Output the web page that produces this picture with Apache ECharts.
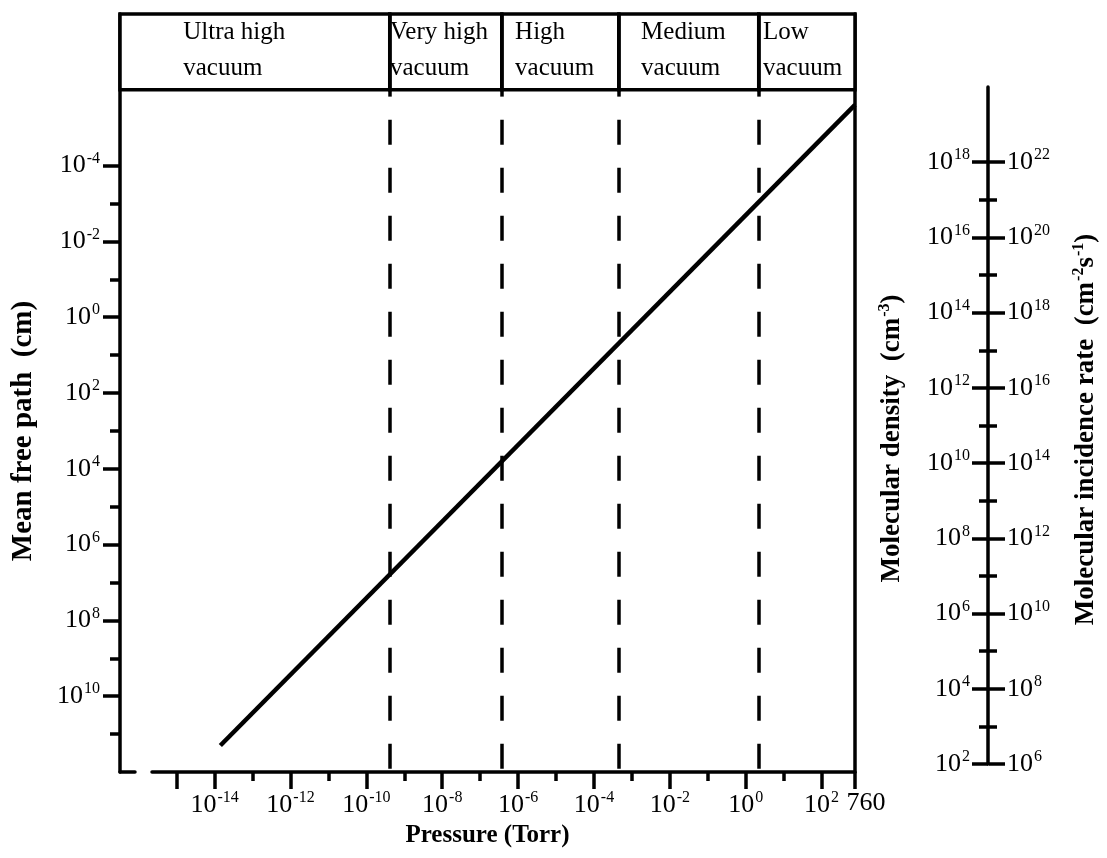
<!DOCTYPE html>
<html lang="en">
<head>
  <meta charset="UTF-8">
  <script src="https://cdn.jsdelivr.net/npm/echarts@6/dist/echarts.min.js"></script>
  <title>Vacuum ranges</title>
  <style>html, body { margin: 0; background: #fff; }</style>
</head>
<body>
  <div id="chart" style="width: 1107px; height: 858px;"></div>

  <script>
    // values (pressure in Torr, mean free path in cm)
    var pressureTorr = [1.4e-14, 760];
    var meanFreePathCm = [2e11, 2.5e-6];

    // vacuum ranges and the pressures that split them
    var regionNames = ['Ultra high\nvacuum', 'Very high\nvacuum', 'High\nvacuum', 'Medium\nvacuum', 'Low\nvacuum'];
    var regionEdgesTorr = [4.1e-10, 3.7e-7, 4.5e-4, 2.2];

    // tick exponents
    var pressureLabelExp = [-14, -12, -10, -8, -6, -4, -2, 0, 2];
    var pressureMinorExp = [-13, -11, -9, -7, -5, -3, -1, 1];
    var pressureTop = 760;
    var mfpLabelExp = [-4, -2, 0, 2, 4, 6, 8, 10];
    var mfpMinorExp = [-3, -1, 1, 3, 5, 7, 9, 11];
    var densityLabelExp = [2, 4, 6, 8, 10, 12, 14, 16, 18];
    var densityMinorExp = [3, 5, 7, 9, 11, 13, 15, 17];
    var incidenceLabelExp = [6, 8, 10, 12, 14, 16, 18, 20, 22];
    var incidenceMinorExp = [7, 9, 11, 13, 15, 17, 19, 21];

    var FONT = 'Liberation Serif';
    var lg = Math.log10;
    var xTop = lg(pressureTop);
    var xLeft = -16.5;        // exponent at the left frame
    var xAxisStart = -15.65;  // exponent where the pressure axis starts

    var chart = echarts.init(document.getElementById('chart'));

    var rich = {
      n: { fontFamily: FONT, fontSize: 26, color: '#000' },
      s: { fontFamily: FONT, fontSize: 16, color: '#000', padding: [0, 0, 14, 1] },
      m: { fontFamily: FONT, fontSize: 26, color: '#000', padding: [0, 0, 0, 22] }
    };
    function pow10(v) {
      if (Math.abs(v - xTop) < 1e-6) return '{m|' + pressureTop + '}';
      return '{n|10}{s|' + v + '}';
    }
    var black = { color: '#000', width: 3.5 };
    function title(size) {
      return { fontFamily: FONT, fontWeight: 'bold', fontSize: size, color: '#000' };
    }
    function titleRich(size, pad) {
      var t = title(size);
      t.padding = pad;
      t.rich = {
        b: title(size),
        u: { fontFamily: FONT, fontWeight: 'bold', fontSize: 16, color: '#000', padding: [0, 0, 15, 1] }
      };
      return t;
    }

    // boxes of the vacuum ranges
    var bounds = [xLeft].concat(regionEdgesTorr.map(lg)).concat([xTop]);
    var labelShift = [65, 2, 15, 24, 6];
    var areaData = regionNames.map(function (name, i) {
      return [
        { coord: [bounds[i], -8], name: name, label: { offset: [labelShift[i], 2] } },
        { coord: [bounds[i + 1], -6] }
      ];
    });

    // separators: solid in the band, a short stub below it, then dashes
    var lineData = [];
    regionEdgesTorr.forEach(function (p) {
      lineData.push([{ coord: [lg(p), -8], lineStyle: { type: 'solid' } }, { coord: [lg(p), -5.82] }]);
      lineData.push([{ coord: [lg(p), -5.21] }, { coord: [lg(p), 12] }]);
    });

    var option = {
      animation: false,
      grid: [
        { left: 120, right: 252, top: 14, bottom: 86 },
        { left: 152, right: 252, top: 14, bottom: 86 },
        { left: 988, width: 1, top: 87, bottom: 94 },
        { left: 120, width: 15, top: 14, bottom: 86 }
      ],
      xAxis: [
        { type: 'value', gridIndex: 0, min: xLeft, max: xTop, show: false },
        {
          type: 'value', gridIndex: 1, position: 'bottom', min: xAxisStart, max: xTop,
          axisLine: { show: true, onZero: false, lineStyle: black },
          axisTick: { show: true, customValues: [-15].concat(pressureLabelExp, [xTop]), length: 17, lineStyle: black },
          axisLabel: { customValues: pressureLabelExp.concat([xTop]), formatter: pow10, margin: 18, rich: rich,
            hideOverlap: false, showMaxLabel: true, showMinLabel: true },
          splitLine: { show: false },
          name: 'Pressure (Torr)', nameLocation: 'middle', nameGap: 50,
          nameTextStyle: Object.assign({ padding: [0, 32, 0, 0] }, title(25))
        },
        {
          type: 'value', gridIndex: 1, position: 'bottom', min: xAxisStart, max: xTop,
          axisLine: { show: false, onZero: false },
          axisTick: { show: true, customValues: pressureMinorExp, length: 9, lineStyle: black },
          axisLabel: { show: false }, splitLine: { show: false }
        },
        { type: 'value', gridIndex: 2, min: 0, max: 1, show: false },
        {
          // short stub at the foot of the left frame
          type: 'value', gridIndex: 3, position: 'bottom', min: 0, max: 1,
          axisLine: { show: true, onZero: false, lineStyle: black },
          axisTick: { show: false }, axisLabel: { show: false }, splitLine: { show: false }
        }
      ],
      yAxis: [
        {
          type: 'value', gridIndex: 0, position: 'left', inverse: true, min: -8, max: 12,
          axisLine: { show: true, onZero: false, lineStyle: black },
          axisTick: { show: true, customValues: mfpLabelExp, length: 17, lineStyle: black },
          axisLabel: { customValues: mfpLabelExp, formatter: pow10, margin: 20, rich: rich },
          splitLine: { show: false },
          name: 'Mean free path  (cm)', nameLocation: 'middle', nameGap: 82,
          nameTextStyle: Object.assign({ padding: [0, 76, 0, 0] }, title(29))
        },
        {
          type: 'value', gridIndex: 0, position: 'left', inverse: true, min: -8, max: 12,
          axisLine: { show: false, onZero: false },
          axisTick: { show: true, customValues: mfpMinorExp, length: 10, lineStyle: black },
          axisLabel: { show: false }, splitLine: { show: false }
        },
        {
          type: 'value', gridIndex: 0, position: 'right', inverse: true, min: -8, max: 12,
          axisLine: { show: true, onZero: false, lineStyle: black },
          axisTick: { show: false }, axisLabel: { show: false }, splitLine: { show: false }
        },
        { type: 'value', gridIndex: 1, min: 0, max: 1, show: false },
        {
          type: 'value', gridIndex: 2, position: 'left', min: 2, max: 20,
          axisLine: { show: true, onZero: false, lineStyle: black },
          axisTick: { show: true, customValues: densityLabelExp, length: 16, lineStyle: black },
          axisLabel: { customValues: densityLabelExp, formatter: pow10, margin: 18, rich: rich },
          splitLine: { show: false },
          name: 'Molecular density  ({b|cm}{u|-3})', nameLocation: 'middle', nameGap: 80,
          nameTextStyle: titleRich(27, [0, 26, 0, 0])
        },
        {
          type: 'value', gridIndex: 2, position: 'left', min: 2, max: 20,
          axisLine: { show: false, onZero: false },
          axisTick: { show: true, customValues: densityMinorExp, length: 9, lineStyle: black },
          axisLabel: { show: false }, splitLine: { show: false }
        },
        {
          type: 'value', gridIndex: 2, position: 'right', min: 6, max: 24,
          axisLine: { show: false, onZero: false },
          axisTick: { show: true, customValues: incidenceLabelExp, length: 16, lineStyle: black },
          axisLabel: { customValues: incidenceLabelExp, formatter: pow10, margin: 18, rich: rich },
          splitLine: { show: false },
          name: 'Molecular incidence rate  ({b|cm}{u|-2}{b|s}{u|-1})', nameLocation: 'middle', nameGap: 82,
          nameTextStyle: titleRich(27, [0, 8, 0, 0])
        },
        {
          type: 'value', gridIndex: 2, position: 'right', min: 6, max: 24,
          axisLine: { show: false, onZero: false },
          axisTick: { show: true, customValues: incidenceMinorExp, length: 8, lineStyle: black },
          axisLabel: { show: false }, splitLine: { show: false }
        },
        { type: 'value', gridIndex: 3, min: 0, max: 1, show: false }
      ],
      series: [
        {
          type: 'line',
          xAxisIndex: 0, yAxisIndex: 0,
          data: pressureTorr.map(function (p, i) { return [lg(p), lg(meanFreePathCm[i])]; }),
          symbol: 'none',
          lineStyle: { color: '#000', width: 4.5 },
          markArea: {
            silent: true,
            itemStyle: { color: '#fff', borderColor: '#000', borderWidth: 3.5 },
            label: {
              show: true, position: 'insideTopLeft', distance: 0,
              fontFamily: FONT, fontSize: 25, lineHeight: 36, color: '#000'
            },
            data: areaData
          },
          markLine: {
            silent: true,
            symbol: ['none', 'none'],
            label: { show: false },
            lineStyle: { color: '#000', width: 3.5, type: [25, 23] },
            data: lineData
          }
        }
      ]
    };

    chart.setOption(option);
  </script>
</body>
</html>
